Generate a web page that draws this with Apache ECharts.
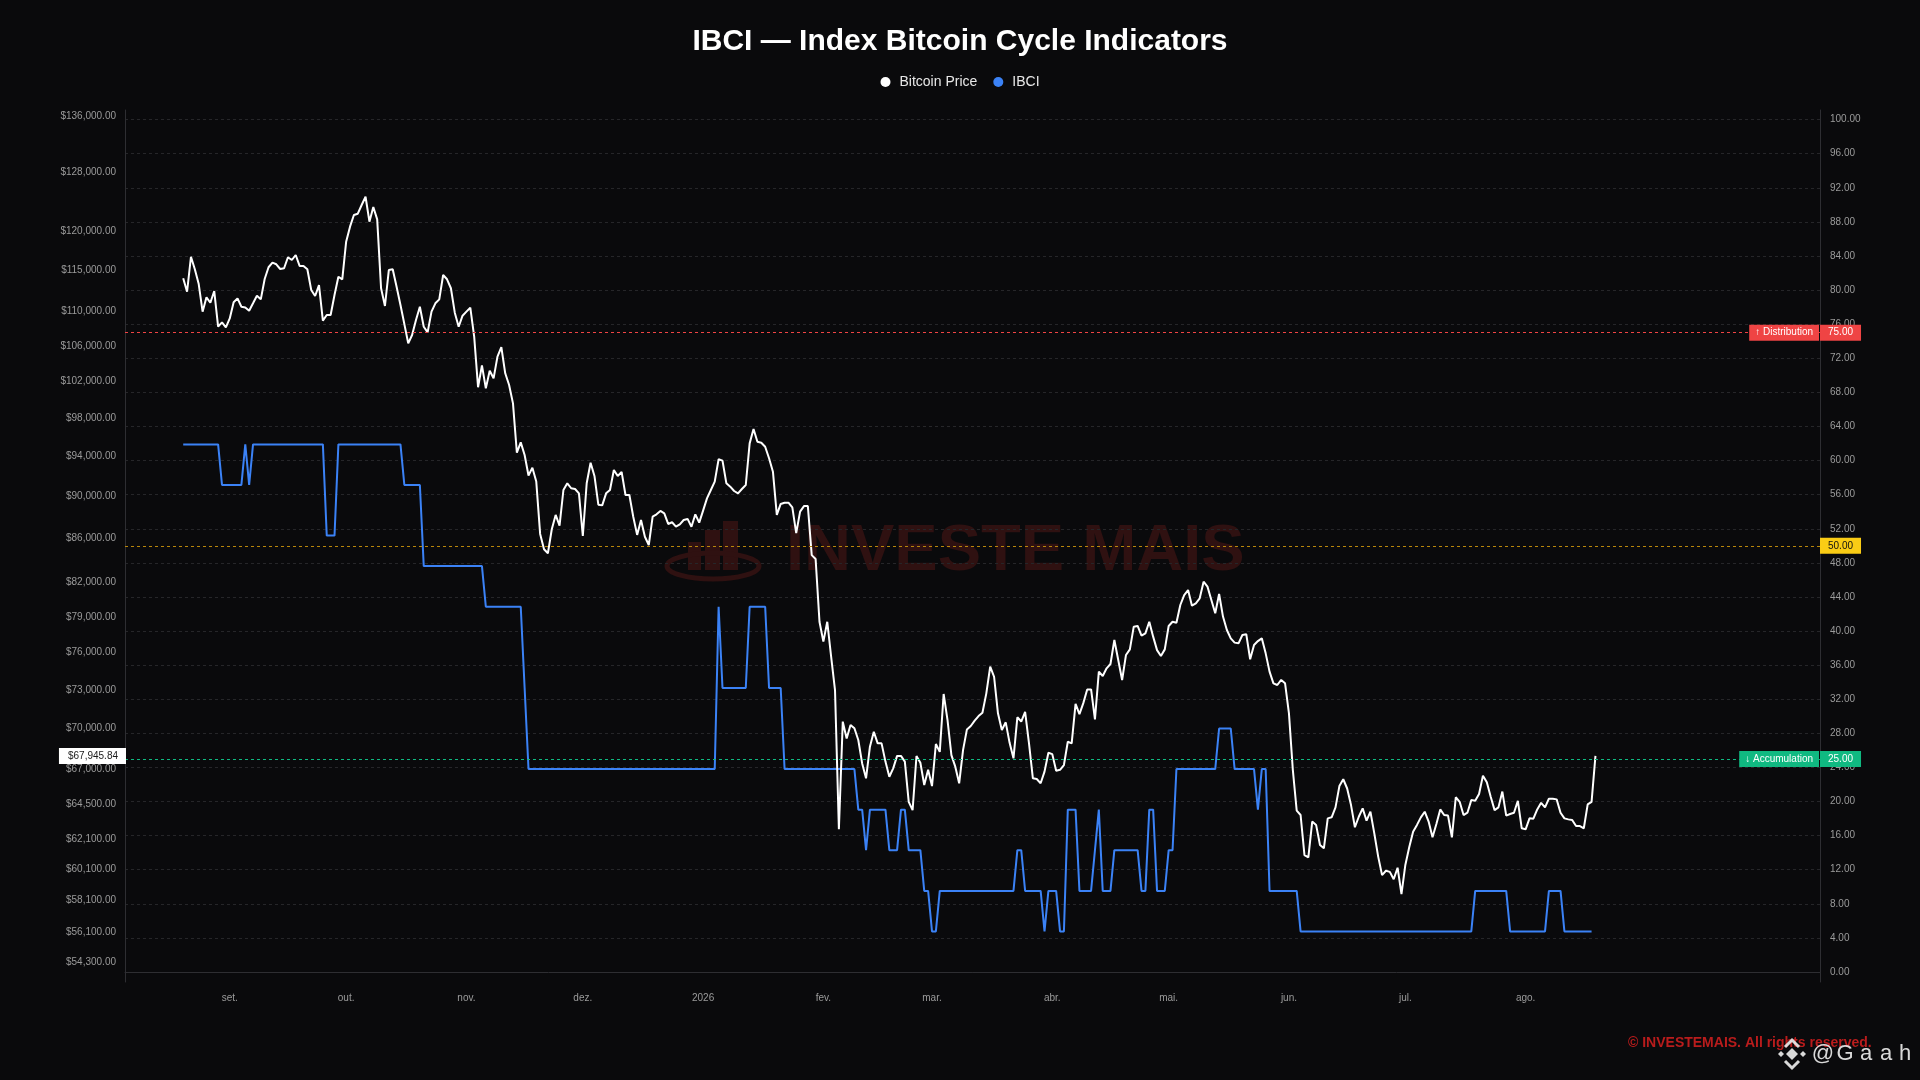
<!DOCTYPE html>
<html>
<head>
<meta charset="utf-8">
<script src="https://cdn.jsdelivr.net/npm/echarts@6/dist/echarts.min.js"></script>
<style>
html,body{margin:0;padding:0;background:#0a0a0c;}
#chart{width:1920px;height:1080px;}
</style>
</head>
<body>
<div id="chart"></div>
<script>
// ---------------- DATA ----------------
const START_DATE = [2025, 7, 20]; // first daily point: 2025-08-20 (UTC)

const priceValues = [
114050,112400,116750,115180,113340,110000,111720,111070,112490,108220,
108740,108150,109200,111130,111600,110590,110510,110120,111000,111920,
111480,113970,115430,116000,115800,115210,115300,116690,116340,116970,
115590,115590,115180,112610,111880,113220,108930,109600,109600,112010,
114250,113930,118670,120620,122150,122330,123490,124600,121270,123220,
121580,112830,110680,115080,115180,113020,110800,108530,106290,107250,
109020,110590,108220,107560,110000,111000,111480,114460,113930,112830,
109880,108220,109520,110000,110470,107060,101340,103780,101220,103180,
102330,104760,105840,102890,101590,99590,94400,95460,94170,92090,
92880,91490,86440,85020,84650,86880,88240,87220,90660,91320,
90830,90760,90330,86250,91320,93380,92050,89230,89160,90330,
90660,92640,92050,92450,90170,90170,88070,86350,87760,86180,
85410,88070,88300,88620,88390,87380,87540,87120,87340,87760,
87860,87120,88300,87510,88650,89840,90660,91490,93730,93590,
91320,90990,90560,90330,90760,91150,95360,96860,95530,95430,
95010,93830,92480,88240,89300,89420,89420,88970,86510,88560,
89090,89090,84480,84120,78590,76910,78590,75670,72980,62760,
70520,69250,70270,70020,69130,67400,66320,68630,69750,68880,
68880,67530,66430,67040,67950,67950,67530,64650,64070,67940,
67450,65840,66930,65760,68830,68250,72670,70640,68010,67160,
65960,68380,69930,70190,70600,70950,71210,72720,74850,74040,
71160,69890,70470,68920,67770,70860,70530,71280,68880,66320,
66270,65960,66800,68180,68080,66870,66930,67280,69000,68880,
71890,71100,71950,73030,73030,70690,74450,74100,74720,75070,
77050,75400,73780,75810,76270,78170,78230,77410,77610,78590,
77330,76210,75720,76270,78230,78590,78500,80030,80900,81340,
79970,80170,80610,82080,81640,80470,79320,80990,79030,77890,
77190,76830,76770,77470,77530,75450,76630,76960,77190,75940,
74450,73510,73380,73780,73510,71160,66930,64030,63730,61020,
60870,63280,63050,61690,61470,63500,63570,64260,65760,66250,
65590,64420,62890,63610,64190,63340,63960,62470,60920,59710,
59990,59920,59440,60190,58490,60370,61540,62590,63050,63570,
63960,63280,62210,63110,64120,63730,63690,62210,64970,64650,
63730,63890,64770,64720,65200,66510,66030,65010,64070,64260,
65370,63690,63800,63890,64720,62820,62750,63500,63480,64120,
64580,64260,64870,64870,64820,63890,63500,63430,63390,62970,
62970,62820,64470,64650,67945.84
];

const ibciValues = [
61.90,61.90,61.90,61.90,61.90,61.90,61.90,61.90,61.90,61.90,
57.14,57.14,57.14,57.14,57.14,57.14,61.90,57.14,61.90,61.90,
61.90,61.90,61.90,61.90,61.90,61.90,61.90,61.90,61.90,61.90,
61.90,61.90,61.90,61.90,61.90,61.90,61.90,51.20,51.20,51.20,
61.90,61.90,61.90,61.90,61.90,61.90,61.90,61.90,61.90,61.90,
61.90,61.90,61.90,61.90,61.90,61.90,61.90,57.14,57.14,57.14,
57.14,57.14,47.62,47.62,47.62,47.62,47.62,47.62,47.62,47.62,
47.62,47.62,47.62,47.62,47.62,47.62,47.62,47.62,42.86,42.86,
42.86,42.86,42.86,42.86,42.86,42.86,42.86,42.86,33.33,23.81,
23.81,23.81,23.81,23.81,23.81,23.81,23.81,23.81,23.81,23.81,
23.81,23.81,23.81,23.81,23.81,23.81,23.81,23.81,23.81,23.81,
23.81,23.81,23.81,23.81,23.81,23.81,23.81,23.81,23.81,23.81,
23.81,23.81,23.81,23.81,23.81,23.81,23.81,23.81,23.81,23.81,
23.81,23.81,23.81,23.81,23.81,23.81,23.81,23.81,42.86,33.33,
33.33,33.33,33.33,33.33,33.33,33.33,42.86,42.86,42.86,42.86,
42.86,33.33,33.33,33.33,33.33,23.81,23.81,23.81,23.81,23.81,
23.81,23.81,23.81,23.81,23.81,23.81,23.81,23.81,23.81,23.81,
23.81,23.81,23.81,23.81,19.05,19.05,14.29,19.05,19.05,19.05,
19.05,19.05,14.29,14.29,14.29,19.05,19.05,14.29,14.29,14.29,
14.29,9.52,9.52,4.76,4.76,9.52,9.52,9.52,9.52,9.52,
9.52,9.52,9.52,9.52,9.52,9.52,9.52,9.52,9.52,9.52,
9.52,9.52,9.52,9.52,9.52,14.29,14.29,9.52,9.52,9.52,
9.52,9.52,4.76,9.52,9.52,9.52,4.76,4.76,19.05,19.05,
19.05,9.52,9.52,9.52,9.52,14.29,19.05,9.52,9.52,9.52,
14.29,14.29,14.29,14.29,14.29,14.29,14.29,9.52,9.52,19.05,
19.05,9.52,9.52,9.52,14.29,14.29,23.81,23.81,23.81,23.81,
23.81,23.81,23.81,23.81,23.81,23.81,23.81,28.57,28.57,28.57,
28.57,23.81,23.81,23.81,23.81,23.81,23.81,19.05,23.81,23.81,
9.52,9.52,9.52,9.52,9.52,9.52,9.52,9.52,4.76,4.76,
4.76,4.76,4.76,4.76,4.76,4.76,4.76,4.76,4.76,4.76,
4.76,4.76,4.76,4.76,4.76,4.76,4.76,4.76,4.76,4.76,
4.76,4.76,4.76,4.76,4.76,4.76,4.76,4.76,4.76,4.76,
4.76,4.76,4.76,4.76,4.76,4.76,4.76,4.76,4.76,4.76,
4.76,4.76,4.76,9.52,9.52,9.52,9.52,9.52,9.52,9.52,
9.52,9.52,4.76,4.76,4.76,4.76,4.76,4.76,4.76,4.76,
4.76,4.76,9.52,9.52,9.52,9.52,4.76,4.76,4.76,4.76,
4.76,4.76,4.76,4.76
];

const priceTickLabels = [136000,128000,120000,115000,110000,106000,102000,98000,94000,90000,
  86000,82000,79000,76000,73000,70000,67000,64500,62100,60100,58100,56100,54300];
const ibciTickLabels = [0,4,8,12,16,20,24,28,32,36,40,44,48,52,56,60,64,68,72,76,80,84,88,92,96,100];
const monthTickDates = [[2025,8,1],[2025,9,1],[2025,10,1],[2025,11,1],[2026,0,1],[2026,1,1],
  [2026,2,1],[2026,3,1],[2026,4,1],[2026,5,1],[2026,6,1],[2026,7,1]];
const monthTickLabels = ['set.','out.','nov.','dez.','2026','fev.','mar.','abr.','mai.','jun.','jul.','ago.'];

const thresholdValues = [75, 50, 25];

// axis extents (view window)
const PRICE_MIN = 53175, PRICE_MAX = 136888;
const IBCI_MIN = -1.17, IBCI_MAX = 101.13;
const X_MIN = Date.UTC(2025, 7, 5);
const X_MAX = Date.UTC(2026, 9, 15, 21);

// ---------------- BUILD ----------------
const DAY = 86400000;
const t0 = Date.UTC(START_DATE[0], START_DATE[1], START_DATE[2]);
const dates = priceValues.map((_, i) => t0 + i * DAY);
const priceData = priceValues.map((v, i) => [dates[i], v]);
const ibciData = ibciValues.map((v, i) => [dates[i], v]);
const monthTicks = monthTickDates.map(d => Date.UTC(d[0], d[1], d[2]));

function commas(s) { return s.replace(/\B(?=(\d{3})+(?!\d))/g, ','); }
function fmtUsd(v) {
  const fixed = v.toFixed(2).split('.');
  return '$' + commas(fixed[0]) + '.' + fixed[1];
}
const lastPrice = priceValues[priceValues.length - 1];
const lastIbci = ibciValues[ibciValues.length - 1];

const FONT = '"Liberation Sans", Arial, Helvetica, sans-serif';
const GRID_LINE = '#262629';
const AXIS_LINE = '#2e2e32';
const LABEL_GREY = '#9b9b9b';
const WM = '#2f1111';
const TAG = 'rgba(235,235,235,0.92)';

const chart = echarts.init(document.getElementById('chart'), null, {renderer: 'canvas'});

const boxLabel = (text, bg, fg, pos, padX) => ({
  show: true, position: pos, formatter: text, distance: pos === 'end' ? 0 : 1,
  backgroundColor: bg, color: fg, fontSize: 10, lineHeight: 12, padding: [2, padX],
  fontFamily: FONT
});

const option = {
  backgroundColor: '#0a0a0c',
  animation: false,
  textStyle: {fontFamily: FONT},
  title: {
    text: 'IBCI — Index Bitcoin Cycle Indicators',
    left: 'center', top: 22,
    textStyle: {color: '#ffffff', fontSize: 30, fontWeight: 'bold', fontFamily: FONT}
  },
  legend: {
    top: 70, left: 'center', icon: 'circle', itemWidth: 18, itemHeight: 10, itemGap: 16,
    textStyle: {color: '#e8e8e8', fontSize: 14, fontFamily: FONT},
    data: ['Bitcoin Price', 'IBCI']
  },
  grid: {left: 125, right: 100, top: 110, bottom: 98, containLabel: false},
  xAxis: {
    type: 'value', min: X_MIN, max: X_MAX,
    axisLine: {show: true, lineStyle: {color: AXIS_LINE, width: 1}},
    axisTick: {show: false, customValues: monthTicks},
    splitLine: {show: false},
    axisLabel: {
      customValues: monthTicks, color: LABEL_GREY, fontSize: 10, margin: 11,
      formatter: (v) => {
        const k = monthTicks.findIndex(t => Math.abs(t - v) < DAY / 2);
        return k >= 0 ? monthTickLabels[k] : '';
      }
    }
  },
  yAxis: [
    { // 0: price, log scale (drawing axis, hidden)
      type: 'log', logBase: 10, min: PRICE_MIN, max: PRICE_MAX, position: 'left',
      axisLine: {show: false}, axisTick: {show: false}, axisLabel: {show: false}, splitLine: {show: false}
    },
    { // 1: IBCI
      type: 'value', min: IBCI_MIN, max: IBCI_MAX, position: 'right',
      axisLine: {show: true, lineStyle: {color: AXIS_LINE}},
      axisTick: {show: false, customValues: ibciTickLabels},
      splitLine: {show: true, lineStyle: {color: GRID_LINE, type: [3, 3], width: 1}},
      axisLabel: {customValues: ibciTickLabels, color: LABEL_GREY, fontSize: 10, margin: 10,
        formatter: v => Number(v).toFixed(2)}
    },
    { // 2: price labels in log space (labels only)
      type: 'value', min: Math.log(PRICE_MIN), max: Math.log(PRICE_MAX), position: 'left',
      axisLine: {show: true, lineStyle: {color: AXIS_LINE}},
      axisTick: {show: false, customValues: priceTickLabels.map(Math.log)},
      splitLine: {show: false},
      axisLabel: {customValues: priceTickLabels.map(Math.log), color: LABEL_GREY, fontSize: 10, margin: 9,
        formatter: v => fmtUsd(Math.round(Math.exp(v) / 100) * 100)}
    }
  ],
  graphic: [
    {type: 'rect', z: -5, silent: true, shape: {x: 688, y: 542, width: 13, height: 28}, style: {fill: WM}},
    {type: 'rect', z: -5, silent: true, shape: {x: 705, y: 530, width: 15, height: 40}, style: {fill: WM}},
    {type: 'rect', z: -5, silent: true, shape: {x: 723, y: 521, width: 15, height: 49}, style: {fill: WM}},
    {type: 'ellipse', z: -5, silent: true, shape: {cx: 713, cy: 566, rx: 46, ry: 13}, style: {fill: 'none', stroke: WM, lineWidth: 5}},
    {type: 'text', z: -5, silent: true, x: 786, y: 552,
      style: {text: 'INVESTE MAIS', fill: WM, fontSize: 65, fontWeight: 'bold', fontFamily: FONT, verticalAlign: 'middle'}},
    {type: 'text', x: 1628, y: 1043,
      style: {text: '© INVESTEMAIS. All rights reserved.', fill: '#b91c1c', fontSize: 14, fontWeight: 'bold', fontFamily: FONT, verticalAlign: 'middle'}},
    {type: 'text', x: 1823, y: 1054, style: {text: '@', fill: TAG, fontSize: 22, fontFamily: FONT, align: 'center', verticalAlign: 'middle'}},
    {type: 'text', x: 1845, y: 1054, style: {text: 'G', fill: TAG, fontSize: 22, fontFamily: FONT, align: 'center', verticalAlign: 'middle'}},
    {type: 'text', x: 1866, y: 1054, style: {text: 'a', fill: TAG, fontSize: 22, fontFamily: FONT, align: 'center', verticalAlign: 'middle'}},
    {type: 'text', x: 1886, y: 1054, style: {text: 'a', fill: TAG, fontSize: 22, fontFamily: FONT, align: 'center', verticalAlign: 'middle'}},
    {type: 'text', x: 1905, y: 1054, style: {text: 'h', fill: TAG, fontSize: 22, fontFamily: FONT, align: 'center', verticalAlign: 'middle'}},
    {type: 'polygon', shape: {points: [[1792,1048],[1798,1054],[1792,1060],[1786,1054]]}, style: {fill: TAG}},
    {type: 'polygon', shape: {points: [[1781,1051],[1784,1054],[1781,1057],[1778,1054]]}, style: {fill: TAG}},
    {type: 'polygon', shape: {points: [[1803,1051],[1806,1054],[1803,1057],[1800,1054]]}, style: {fill: TAG}},
    {type: 'polyline', shape: {points: [[1785,1047],[1792,1040],[1799,1047]]}, style: {stroke: TAG, lineWidth: 3, fill: 'none'}},
    {type: 'polyline', shape: {points: [[1785,1061],[1792,1068],[1799,1061]]}, style: {stroke: TAG, lineWidth: 3, fill: 'none'}}
  ],
  series: [
    {
      name: 'IBCI', type: 'line', xAxisIndex: 0, yAxisIndex: 1, data: ibciData,
      showSymbol: false, symbol: 'none', z: 3,
      lineStyle: {color: '#3b82f6', width: 2}, itemStyle: {color: '#3b82f6'},
      markLine: {
        silent: true, symbol: ['none', 'none'], animation: false,
        data: [
          {yAxis: thresholdValues[0], lineStyle: {color: '#ef4444', type: [3, 3], width: 1},
            label: boxLabel('↑ Distribution', '#ef4444', '#ffffff', 'insideEnd', 6)},
          {yAxis: thresholdValues[0], lineStyle: {color: '#ef4444', type: [3, 3], width: 1},
            label: boxLabel(thresholdValues[0].toFixed(2), '#ef4444', '#ffffff', 'end', 8)},
          {yAxis: thresholdValues[1], lineStyle: {color: '#b8860b', type: [3, 3], width: 1},
            label: boxLabel(thresholdValues[1].toFixed(2), '#facc15', '#111111', 'end', 8)},
          {yAxis: thresholdValues[2], lineStyle: {color: '#10b981', type: [3, 3], width: 1},
            label: boxLabel('↓ Accumulation', '#10b981', '#ffffff', 'insideEnd', 6)},
          {yAxis: thresholdValues[2], lineStyle: {color: '#10b981', type: [3, 3], width: 1},
            label: boxLabel(thresholdValues[2].toFixed(2), '#10b981', '#ffffff', 'end', 8)},
          {yAxis: lastIbci, lineStyle: {opacity: 0},
            label: boxLabel(lastIbci.toFixed(2), '#3b82f6', '#ffffff', 'end', 8)}
        ]
      }
    },
    {
      name: 'Bitcoin Price', type: 'line', xAxisIndex: 0, yAxisIndex: 0, data: priceData,
      showSymbol: false, symbol: 'none', z: 4,
      lineStyle: {color: '#ffffff', width: 2}, itemStyle: {color: '#ffffff'}
    }
  ]
};
chart.setOption(option);

// Last-price tag on the left axis, positioned through the price (log) axis scale
const tagY = chart.convertToPixel({yAxisIndex: 0}, lastPrice);
const tagX = chart.convertToPixel({xAxisIndex: 0}, X_MIN);
if (isFinite(tagY) && isFinite(tagX)) {
  option.graphic.push({
    type: 'text', z: 50, silent: true, x: tagX + 1, y: tagY,
    style: {
      text: fmtUsd(lastPrice), fill: '#1a1a1a', fontSize: 10, fontFamily: FONT,
      align: 'right', verticalAlign: 'middle', backgroundColor: '#ffffff', padding: [3, 8, 3, 9]
    }
  });
  chart.setOption(option, true);
}
</script>
</body>
</html>
